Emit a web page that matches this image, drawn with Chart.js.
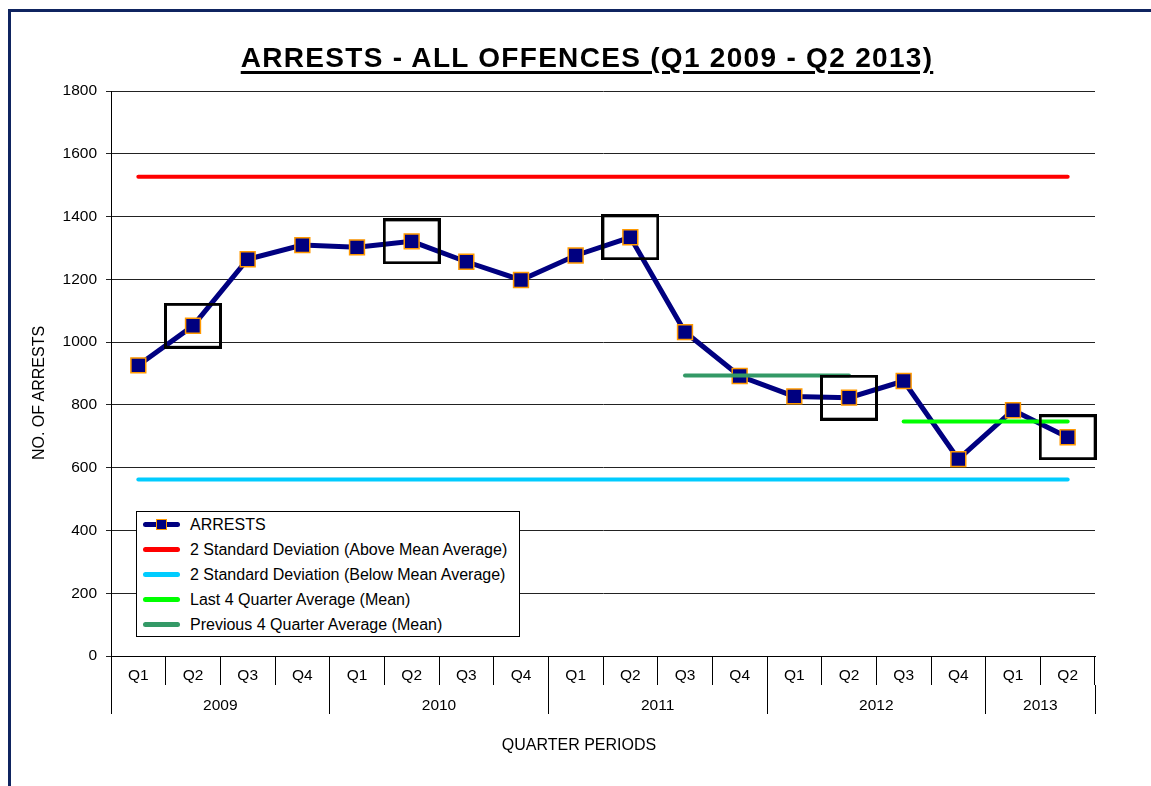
<!DOCTYPE html>
<html>
<head>
<meta charset="utf-8">
<script src="https://cdn.jsdelivr.net/npm/chart.js@4.4.0/dist/chart.umd.min.js"></script>
<style>
  html, body { margin: 0; padding: 0; width: 1151px; height: 786px; overflow: hidden; background: #fff;
    font-family: "Liberation Sans", Arial, sans-serif; color: #000; }
  #frame { position: absolute; left: 8px; top: 9px; width: 1300px; height: 1000px; border: 3px solid #0f2460; }
  #grafik { position: absolute; left: 0; top: 0; }
  #judul { position: absolute; left: 0; top: 44px; width: 1174px; text-align: center; font-size: 28px; line-height: 28px;
    font-weight: bold; letter-spacing: 1.3px; text-decoration: underline; text-decoration-thickness: 3px; text-underline-offset: 4px; }
  #judulY { position: absolute; left: -61px; top: 385px; width: 200px; text-align: center; font-size: 16px; line-height: 16px;
    transform: rotate(-90deg); }
  #judulX { position: absolute; left: 479px; top: 737px; width: 200px; text-align: center; font-size: 16px; line-height: 16px; }
  #legenda { position: absolute; left: 136px; top: 511px; width: 384px; height: 126px; box-sizing: border-box;
    border: 1px solid #000; background: #fff; }
  .baris { height: 25px; display: flex; align-items: center; font-size: 16px; }
  .contoh { position: relative; width: 37px; height: 5px; border-radius: 3px; margin-left: 6px; margin-right: 10px; }
  .contoh i { position: absolute; left: 13px; top: -3px; width: 9px; height: 9px; border: 1px solid #ff9900; background: #000080; }
</style>
</head>
<body>
<div id="frame"></div>
<canvas id="grafik" width="1151" height="786"></canvas>
<div id="judul">ARRESTS - ALL OFFENCES (Q1 2009 - Q2 2013)</div>
<div id="judulY">NO. OF ARRESTS</div>
<div id="judulX">QUARTER PERIODS</div>
<div id="legenda"></div>
<script>
// data kuartal
const quarterLabels = ['Q1', 'Q2', 'Q3', 'Q4', 'Q1', 'Q2', 'Q3', 'Q4', 'Q1', 'Q2', 'Q3', 'Q4', 'Q1', 'Q2', 'Q3', 'Q4', 'Q1', 'Q2'];
const yearLabels = ['2009', '2009', '2009', '2009', '2010', '2010', '2010', '2010', '2011', '2011', '2011', '2011',
                    '2012', '2012', '2012', '2012', '2013', '2013'];
const arrests = [926, 1052, 1264, 1309, 1302, 1321, 1256, 1198, 1276, 1334, 1032, 892, 827, 823, 876, 627, 783, 697];
const upperSD = [1527, 1527, 1527, 1527, 1527, 1527, 1527, 1527, 1527, 1527, 1527, 1527, 1527, 1527, 1527, 1527, 1527, 1527];
const lowerSD = [562, 562, 562, 562, 562, 562, 562, 562, 562, 562, 562, 562, 562, 562, 562, 562, 562, 562];
const last4Avg = [null, null, null, null, null, null, null, null, null, null, null, null, null, null, 747, 747, 747, 747];
const prev4Avg = [null, null, null, null, null, null, null, null, null, null, 894, 894, 894, 894, null, null, null, null];
const highlighted = [null, 1052, null, null, null, 1321, null, null, null, 1334, null, null, null, 823, null, null, null, 697];
const yTicks = [0, 200, 400, 600, 800, 1000, 1200, 1400, 1600, 1800];

document.addEventListener('DOMContentLoaded', function() {
    Chart.defaults.font.family = '"Liberation Sans", Arial, sans-serif';
    Chart.defaults.color = '#000';

    // kelompok tahun untuk baris label kedua
    const yearGroups = [];
    yearLabels.forEach(function(y, i) {
        const last = yearGroups[yearGroups.length - 1];
        if (last && last.label === y) { last.end = i; } else { yearGroups.push({ label: y, start: i, end: i }); }
    });
    const yearEdges = [-0.5].concat(yearGroups.map(g => g.end + 0.5));
    const yearMids = yearGroups.map(g => (g.start + g.end) / 2);

    // kotak hitam untuk kuartal yang ditandai
    const kotak = document.createElement('canvas');
    kotak.width = 58; kotak.height = 46;
    const kc = kotak.getContext('2d');
    kc.strokeStyle = '#000'; kc.lineWidth = 3;
    kc.strokeRect(1.5, 1.5, 55, 43);

    const ctx = document.getElementById('grafik').getContext('2d');
    const chart = new Chart(ctx, {
        type: 'line',
        data: {
            labels: quarterLabels,
            datasets: [
                { label: 'highlight', data: highlighted, showLine: false, pointStyle: kotak, pointRadius: 5,
                  order: 0, legend: false },
                { label: 'Last 4 Quarter Average (Mean)', data: last4Avg, borderColor: '#00ff00', borderWidth: 4,
                  borderCapStyle: 'round', pointRadius: 0, order: 1 },
                { label: 'Previous 4 Quarter Average (Mean)', data: prev4Avg, borderColor: '#339966', borderWidth: 4,
                  borderCapStyle: 'round', pointRadius: 0, order: 2 },
                { label: '2 Standard Deviation (Above Mean Average)', data: upperSD, borderColor: '#ff0000', borderWidth: 4,
                  borderCapStyle: 'round', pointRadius: 0, order: 3 },
                { label: '2 Standard Deviation (Below Mean Average)', data: lowerSD, borderColor: '#00ccff', borderWidth: 4,
                  borderCapStyle: 'round', pointRadius: 0, order: 4 },
                { label: 'ARRESTS', data: arrests, borderColor: '#000080', borderWidth: 5, pointStyle: 'rect',
                  pointRadius: 10.5, pointBackgroundColor: '#000080', pointBorderColor: '#ff9900', pointBorderWidth: 1.5,
                  order: 5, legendMarker: true }
            ]
        },
        options: {
            responsive: false,
            animation: false,
            layout: { padding: { left: 0, right: 56, top: 91, bottom: 40 } },
            plugins: {
                legend: { display: false },
                tooltip: { enabled: false }
            },
            scales: {
                y: {
                    min: 0, max: 1800,
                    afterBuildTicks: s => { s.ticks = yTicks.map(v => ({ value: v })); },
                    afterFit: s => { s.width = 111; },
                    ticks: { font: { size: 15.5 }, padding: 9, callback: v => String(v) },
                    grid: { color: '#222', tickLength: 5 },
                    border: { color: '#000' }
                },
                x: {
                    offset: true,
                    afterFit: s => { s.height = 29; },
                    ticks: { autoSkip: false, maxRotation: 0, font: { size: 15.5 }, padding: -19 },
                    grid: { offset: true, drawOnChartArea: false, tickLength: 29, color: '#000' },
                    border: { color: '#000' }
                },
                x2: {
                    type: 'linear', position: 'bottom',
                    min: -0.5, max: quarterLabels.length - 0.5,
                    afterBuildTicks: s => {
                        s.ticks = yearEdges.concat(yearMids).sort((a, b) => a - b).map(v => ({ value: v }));
                    },
                    afterFit: s => { s.height = 61; },
                    ticks: {
                        autoSkip: false, maxRotation: 0, font: { size: 15.5 }, padding: -18,
                        callback: function(v) {
                            const g = yearGroups.find(g => (g.start + g.end) / 2 === v);
                            return g ? g.label : '';
                        }
                    },
                    grid: {
                        drawOnChartArea: false, tickLength: 29,
                        color: c => (c.tick && yearMids.includes(c.tick.value)) ? 'rgba(0,0,0,0)' : '#000'
                    },
                    border: { display: false }
                }
            }
        }
    });

    // legenda HTML dari dataset
    const urutan = ['ARRESTS', '2 Standard Deviation (Above Mean Average)', '2 Standard Deviation (Below Mean Average)',
                    'Last 4 Quarter Average (Mean)', 'Previous 4 Quarter Average (Mean)'];
    const legenda = document.getElementById('legenda');
    urutan.forEach(function(nama) {
        const ds = chart.data.datasets.find(d => d.label === nama);
        const baris = document.createElement('div');
        baris.className = 'baris';
        const contoh = document.createElement('span');
        contoh.className = 'contoh';
        contoh.style.background = ds.borderColor;
        if (ds.legendMarker) { contoh.appendChild(document.createElement('i')); }
        baris.appendChild(contoh);
        baris.appendChild(document.createTextNode(ds.label));
        legenda.appendChild(baris);
    });
});
</script>
</body>
</html>
